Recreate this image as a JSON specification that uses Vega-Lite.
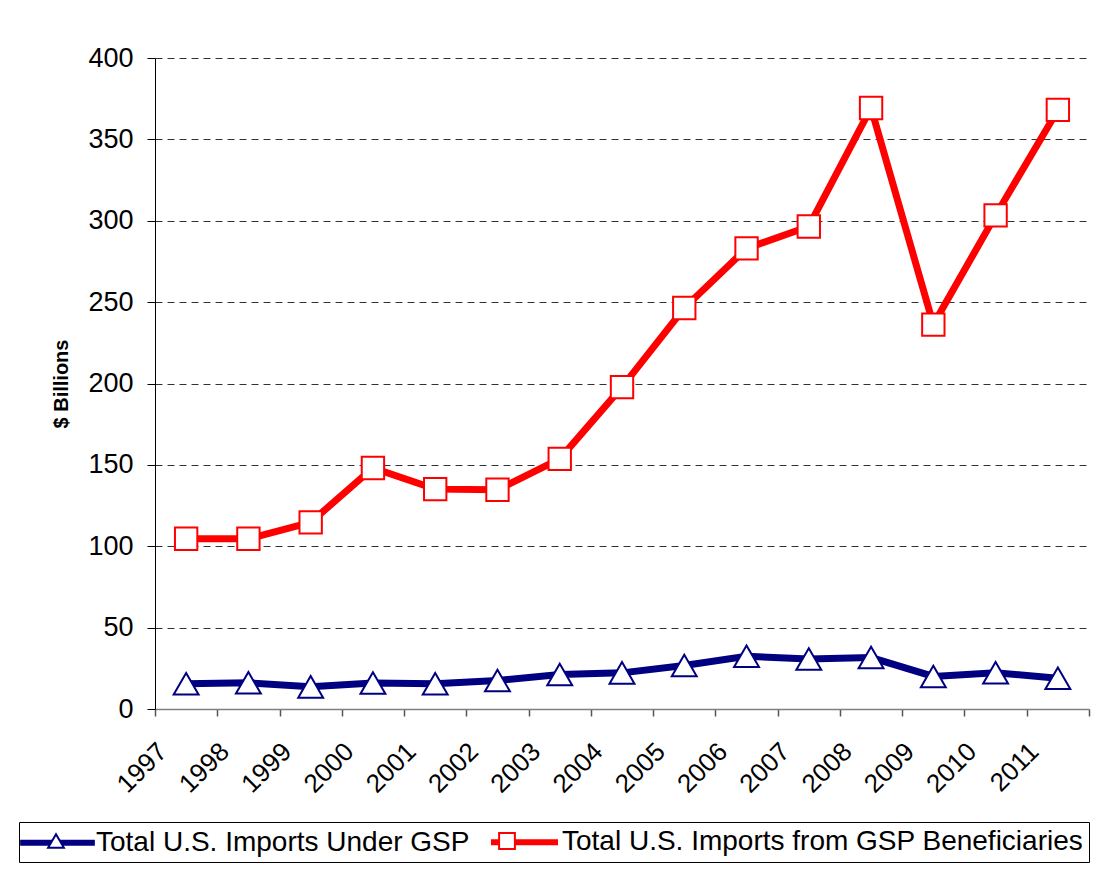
{
  "$schema": "https://vega.github.io/schema/vega-lite/v6.json",
  "width": 934,
  "height": 651,
  "autosize": {"type": "none"},
  "padding": {"left": 155, "top": 58, "right": 5, "bottom": 174},
  "background": "white",
  "config": {"font": "Liberation Sans", "view": {"stroke": null}},
  "data": {
    "values": [
      {"year": "1997", "gsp": 15.5, "ben": 104.6},
      {"year": "1998", "gsp": 16.1, "ben": 104.6},
      {"year": "1999", "gsp": 13.6, "ben": 114.7},
      {"year": "2000", "gsp": 16.0, "ben": 148.1},
      {"year": "2001", "gsp": 15.5, "ben": 135.1},
      {"year": "2002", "gsp": 17.5, "ben": 134.7},
      {"year": "2003", "gsp": 21.2, "ben": 153.7},
      {"year": "2004", "gsp": 22.2, "ben": 197.8},
      {"year": "2005", "gsp": 26.7, "ben": 246.4},
      {"year": "2006", "gsp": 32.4, "ben": 283.0},
      {"year": "2007", "gsp": 30.7, "ben": 296.5},
      {"year": "2008", "gsp": 31.6, "ben": 369.3},
      {"year": "2009", "gsp": 20.0, "ben": 236.2},
      {"year": "2010", "gsp": 22.3, "ben": 303.3},
      {"year": "2011", "gsp": 18.9, "ben": 368.1}
    ]
  },
  "layer": [
    {
      "transform": [{"fold": ["gsp", "ben"], "as": ["series", "value"]}],
      "mark": {"type": "line", "strokeWidth": 7},
      "encoding": {
        "x": {
          "field": "year", "type": "ordinal",
          "scale": {"type": "band", "paddingInner": 0, "paddingOuter": 0},
          "axis": {
            "title": null, "tickBand": "extent", "labelAngle": -45, "labelFontSize": 26,
            "labelColor": "black", "domainColor": "#7f7f7f", "domainWidth": 1.5,
            "tickColor": "#555555", "tickSize": 7, "tickWidth": 1.5, "grid": false,
            "labelPadding": 22, "labelOffset": -33
          }
        },
        "y": {
          "field": "value", "type": "quantitative",
          "scale": {"domain": [0, 400], "nice": false},
          "axis": {
            "title": "$ Billions", "values": [0, 50, 100, 150, 200, 250, 300, 350, 400],
            "labelFontSize": 27, "labelColor": "black", "domainColor": "black", "domainWidth": 1,
            "tickColor": "black", "tickSize": 8, "labelPadding": 14, "grid": true,
            "gridDash": [7, 5], "gridColor": "#333333", "gridWidth": 1,
            "titleFontSize": 20, "titleFontWeight": "bold", "titlePadding": 16, "titleColor": "black"
          }
        },
        "color": {
          "field": "series", "type": "nominal",
          "scale": {"domain": ["gsp", "ben"], "range": ["#000080", "#FF0000"]},
          "legend": {
            "orient": "none", "legendX": -136, "legendY": 764, "direction": "horizontal",
            "title": null,
            "labelExpr": "datum.value === 'gsp' ? 'Total U.S. Imports Under GSP' : 'Total U.S. Imports from GSP Beneficiaries'",
            "labelFontSize": 28, "labelColor": "black", "labelLimit": 0,
            "symbolType": "M-3,0H3", "symbolSize": 484, "symbolStrokeWidth": 6,
            "symbolOffset": 18, "labelOffset": 23, "columnPadding": 8,
            "strokeColor": "black", "fillColor": "white", "padding": 5
          }
        }
      }
    },
    {
      "transform": [{"fold": ["gsp", "ben"], "as": ["marker", "value"]}],
      "mark": {"type": "point", "filled": false, "fill": "white", "strokeWidth": 2, "opacity": 1},
      "encoding": {
        "x": {"field": "year", "type": "ordinal"},
        "y": {"field": "value", "type": "quantitative"},
        "size": {
          "field": "marker", "type": "ordinal",
          "scale": {"domain": ["gsp", "ben"], "range": [620, 500]},
          "legend": null
        },
        "shape": {
          "field": "marker", "type": "nominal", "sort": "descending",
          "scale": {"range": ["triangle-up", "square"]},
          "legend": {
            "orient": "none", "legendX": -136, "legendY": 764, "direction": "horizontal",
            "title": null,
            "labelExpr": "datum.value === 'gsp' ? 'Total U.S. Imports Under GSP' : 'Total U.S. Imports from GSP Beneficiaries'",
            "labelFontSize": 28, "labelOpacity": 0, "labelLimit": 0,
            "symbolSize": 250, "symbolStrokeWidth": 2, "symbolFillColor": "white",
            "symbolOffset": 18, "labelOffset": 23, "columnPadding": 8,
            "strokeColor": "transparent", "padding": 5
          }
        },
        "stroke": {
          "field": "marker", "type": "nominal", "sort": "descending",
          "scale": {"range": ["#000080", "#FF0000"]},
          "legend": {
            "orient": "none", "legendX": -136, "legendY": 764, "direction": "horizontal",
            "title": null,
            "labelExpr": "datum.value === 'gsp' ? 'Total U.S. Imports Under GSP' : 'Total U.S. Imports from GSP Beneficiaries'",
            "labelFontSize": 28, "labelOpacity": 0, "labelLimit": 0,
            "symbolSize": 250, "symbolStrokeWidth": 2, "symbolFillColor": "white",
            "symbolOffset": 18, "labelOffset": 23, "columnPadding": 8,
            "strokeColor": "transparent", "padding": 5
          }
        }
      }
    }
  ]
}
